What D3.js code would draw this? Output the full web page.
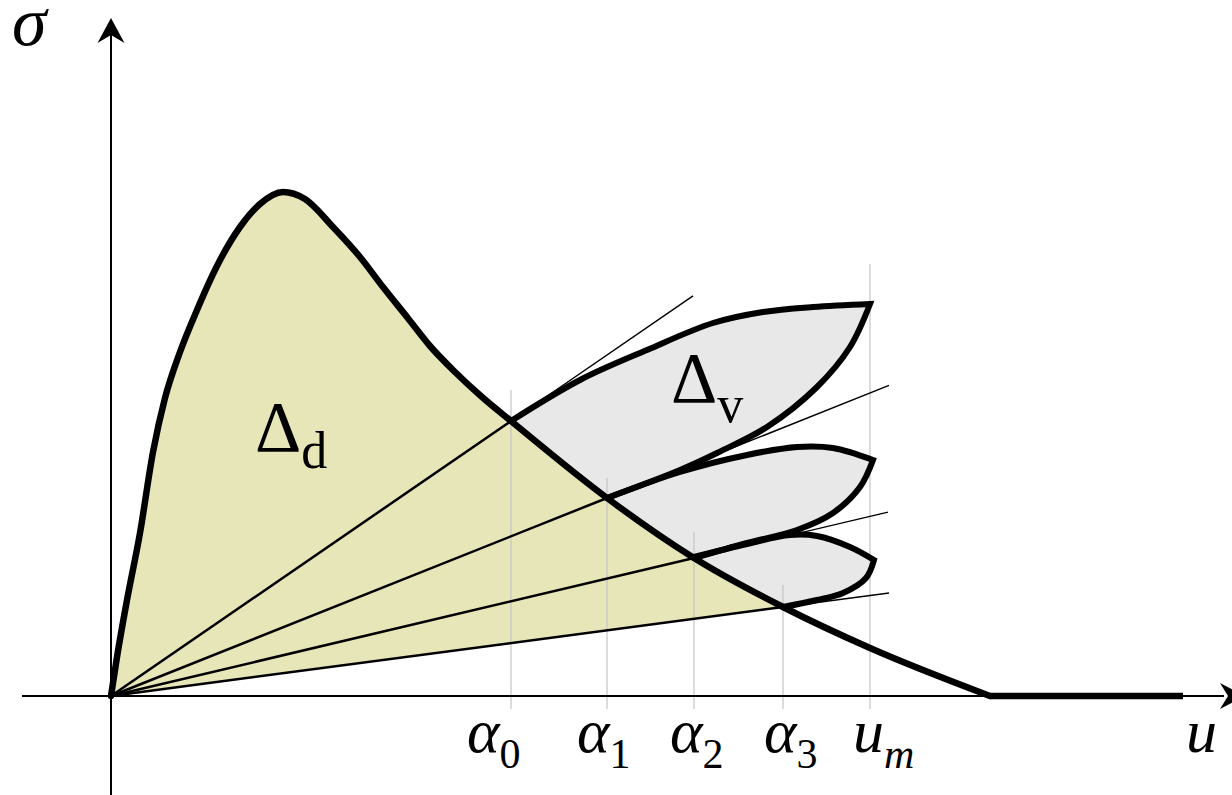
<!DOCTYPE html>
<html>
<head>
<meta charset="utf-8">
<script src="https://cdn.jsdelivr.net/npm/d3@7"></script>
</head>
<body style="margin:0">
<svg id="chart" width="1232" height="795"></svg>
<script>
// Stress–strain envelope σ(u) with the dissipated (Δd) and viscous (Δv) regions.
const mainCurve = [[0,0],[0.06,0.39],[0.16,0.96],[0.29,1.63],[0.42,2.44],[0.54,2.98],[0.69,3.44],
  [0.86,3.86],[1.06,4.30],[1.29,4.69],[1.49,4.92],[1.72,5.04],[1.94,4.97],[2.22,4.69],[2.49,4.39],
  [2.72,4.09],[2.96,3.79],[3.19,3.50],[3.44,3.24],[3.71,2.99],[4.00,2.75],
  [4.96,1.98],[5.83,1.38],[6.72,0.89],[7.59,0.48],[8.79,0]];
const residual = [[8.79,0],[10.72,0]];

// Break points α0..α3 and the maximum strain u_m
const alphaU = [4.00, 4.96, 5.83, 6.72];
const alphaS = [2.75, 1.98, 1.38, 0.89];
const uMax = 7.59;

// Secant rays from the origin, extended to these strains
const rayEnd = [5.82, 7.78, 7.77, 7.78];

// Hysteresis loops: upper branch to the tip, lower branch back to the next break point
const loopUpper = [
  [[4.00,2.75],[4.69,3.16],[5.36,3.46],[6.02,3.73],[6.52,3.84],[7.02,3.89],[7.59,3.92]],
  [[4.96,1.98],[5.69,2.24],[6.36,2.41],[6.86,2.49],[7.22,2.48],[7.62,2.36]],
  [[5.83,1.39],[6.36,1.52],[6.79,1.61],[7.06,1.60],[7.39,1.49],[7.63,1.36]]
];
const loopLower = [
  [[7.59,3.92],[7.39,3.49],[7.06,3.09],[6.56,2.69],[6.06,2.43],[5.69,2.26],[4.96,1.98]],
  [[7.62,2.36],[7.49,2.09],[7.22,1.83],[6.86,1.66],[6.36,1.53],[5.83,1.38]],
  [[7.63,1.36],[7.55,1.18],[7.32,1.03],[7.06,0.96],[6.72,0.89]]
];

// Guide lines: upper end of each vertical marker
const guideTop = [3.06, 2.18, 1.64, 1.11, 4.32];
const guideBottom = -0.13;

// Axis labels under the guides (start of each label)
const tickNames = ["α", "α", "α", "α", "u"];
const tickSubs = ["0", "1", "2", "3", "m"];
const tickStartU = [3.56, 4.66, 5.59, 6.53, 7.42];

const svg = d3.select("#chart");
const x = d3.scaleLinear().domain([0, 11.21]).range([111, 1232]);
const y = d3.scaleLinear().domain([0, 6.96]).range([696, 0]);

const smooth = d3.line().x(d => x(d[0])).y(d => y(d[1])).curve(d3.curveCatmullRom.alpha(0.5));
const envelope = d3.line().x(d => x(d[0])).y(d => y(d[1])).curve(d3.curveMonotoneX);
const straight = d3.line().x(d => x(d[0])).y(d => y(d[1]));

// Serif text set at a 50px base size and scaled up to the wanted size
const BASE = 50;
function label(px, py, size) {
  const s = size / BASE;
  const g = svg.append("g").attr("transform", `translate(${px},${py}) scale(${s})`);
  const t = g.append("text").attr("x", 0).attr("y", 0)
    .attr("font-family", "Liberation Serif").attr("font-size", BASE).attr("fill", "#000");
  t.sub = (txt, subSize, dy, italic) => {
    t.append("tspan").attr("font-size", subSize / s).attr("dy", dy / s)
      .attr("font-style", italic ? "italic" : "normal").text(txt);
  };
  return t;
}

// Δd region: envelope up to α3, closed by the last secant
const a3idx = mainCurve.findIndex(p => p[0] === alphaU[3]);
svg.append("path")
  .attr("d", envelope(mainCurve.slice(0, a3idx + 1)) + "Z")
  .attr("fill", "#e6e6b8");

// Loop fills
const loopPath = i => smooth(loopUpper[i]) + smooth(loopLower[i]).replace(/^M/, "L") + "Z";
loopUpper.forEach((_, i) => {
  svg.append("path").attr("d", loopPath(i)).attr("fill", "#e8e8e8");
});

// Vertical guides
const guideU = alphaU.concat([uMax]);
svg.selectAll("line.guide").data(guideU).join("line")
  .attr("x1", d => x(d)).attr("x2", d => x(d))
  .attr("y1", (d, i) => y(guideTop[i])).attr("y2", y(guideBottom))
  .attr("stroke", "#c4c4c4").attr("stroke-width", 1.2);

// Secant rays
alphaU.forEach((a, i) => {
  const k = alphaS[i] / a;
  svg.append("path").attr("d", straight([[0,0],[a, alphaS[i]]]))
    .attr("stroke", "#000").attr("stroke-width", 2.5).attr("fill", "none");
  svg.append("path").attr("d", straight([[a, alphaS[i]],[rayEnd[i], k * rayEnd[i]]]))
    .attr("stroke", "#000").attr("stroke-width", 1.4).attr("fill", "none");
});

// Axes with arrowheads
svg.append("line").attr("x1", 22).attr("x2", 1224).attr("y1", y(0)).attr("y2", y(0))
  .attr("stroke", "#000").attr("stroke-width", 2);
svg.append("line").attr("x1", x(0)).attr("x2", x(0)).attr("y1", 795).attr("y2", 30)
  .attr("stroke", "#000").attr("stroke-width", 2);
const ox = x(0), oy = y(0);
svg.append("path").attr("d", `M${ox},18 L${ox + 13.5},43 L${ox},35 L${ox - 13.5},43 Z`).attr("fill", "#000");
svg.append("path").attr("d", `M1245,${oy} L1220,${oy - 13} L1228,${oy} L1220,${oy + 13} Z`).attr("fill", "#000");

// Envelope and residual branch
svg.append("path").attr("d", envelope(mainCurve))
  .attr("fill", "none").attr("stroke", "#000").attr("stroke-width", 6.5)
  .attr("stroke-linejoin", "round").attr("stroke-linecap", "round");
svg.append("path").attr("d", straight(residual))
  .attr("fill", "none").attr("stroke", "#000").attr("stroke-width", 6.5);

// Loop outlines
loopUpper.forEach((_, i) => {
  svg.append("path")
    .attr("d", smooth(loopUpper[i]) + smooth(loopLower[i]).replace(/^M/, "L"))
    .attr("fill", "none").attr("stroke", "#000").attr("stroke-width", 6)
    .attr("stroke-linejoin", "miter").attr("stroke-linecap", "round");
});

// Axis titles
label(12, 45, 70).attr("font-style", "italic").text("σ");
label(1186, 752, 62).attr("font-style", "italic").text("u");

// Guide labels
tickNames.forEach((t, i) => {
  const txt = label(x(tickStartU[i]), 752, 62);
  txt.append("tspan").attr("font-style", "italic").text(t);
  txt.sub(tickSubs[i], 42, 16, tickSubs[i] === "m");
});

// Region labels
const dd = label(255, 451, 72);
dd.append("tspan").text("Δ");
dd.sub("d", 52, 17, false);
const dv = label(671, 402, 72);
dv.append("tspan").text("Δ");
dv.sub("v", 52, 20, false);
</script>
</body>
</html>
